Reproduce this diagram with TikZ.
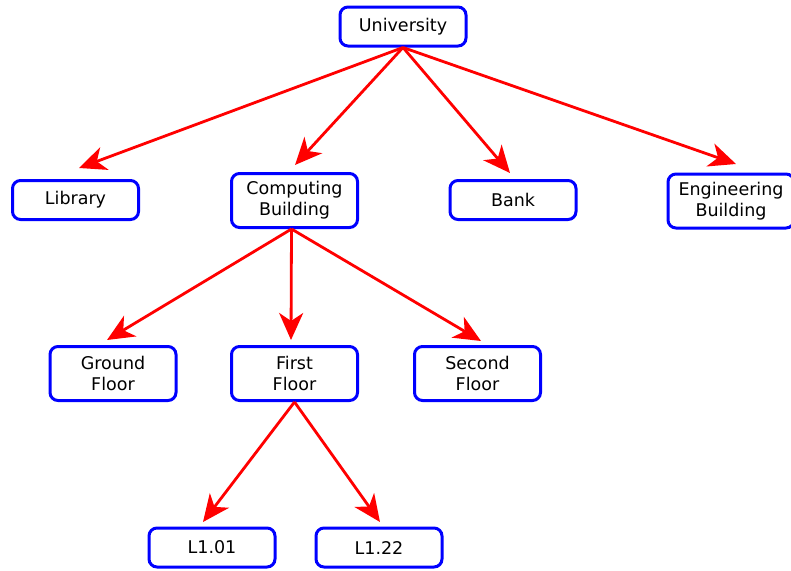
\documentclass[tikz,border=0pt]{standalone}
\usepackage{fontspec}
\setmainfont{DejaVu Sans}
\usetikzlibrary{arrows.meta}

\tikzset{
  box/.style={rectangle, rounded corners=8pt, draw=blue, line width=3pt,
    fill=white, minimum width=126pt, minimum height=39pt, align=center,
    inner sep=2pt, font=\fontsize{17.5pt}{21pt}\selectfont, text=black},
  tallbox/.style={box, minimum height=54pt},
  link/.style={draw=red, line width=2.8pt,
    -{Stealth[length=27pt, width=24pt, inset=8pt]}}
}

\begin{document}
\begin{tikzpicture}[x=1pt, y=-1pt]
  \clip (0,0) rectangle (791,570);
  \fill[white] (0,0) rectangle (791,570);

  % campus level
  \node[box]     (uni)    at (403,26.5)  {University};
  \node[box]     (lib)    at (75.5,200)  {Library};
  \node[tallbox] (comp)   at (294.5,200.5) {Computing\\Building};
  \node[box]     (bank)   at (513,200)   {Bank};
  \node[tallbox] (eng)    at (731,201)   {Engineering\\Building};

  % floors of the computing building
  \node[tallbox] (ground) at (113,373.5)   {Ground\\Floor};
  \node[tallbox] (first)  at (294.5,373.5) {First\\Floor};
  \node[tallbox] (second) at (477.5,373.5) {Second\\Floor};

  % rooms on the first floor
  \node[box]     (l101)   at (212,547.5) {L1.01};
  \node[box]     (l122)   at (379,547.5) {L1.22};

  % arrow end points just above each child
  \coordinate (tlib)    at (79,168);
  \coordinate (tcomp)   at (295,165);
  \coordinate (tbank)   at (510,173);
  \coordinate (teng)    at (736,164);
  \coordinate (tground) at (107,340);
  \coordinate (tfirst)  at (291,340);
  \coordinate (tsecond) at (481,341);
  \coordinate (tl101)   at (203,522);
  \coordinate (tl122)   at (380,522);

  \coordinate (csouth) at ([xshift=-3pt]comp.south);

  \draw[link] (uni.south) -- (tlib);
  \draw[link] (uni.south) -- (tcomp);
  \draw[link] (uni.south) -- (tbank);
  \draw[link] (uni.south) -- (teng);

  \draw[link] (csouth) -- (tground);
  \draw[link] (csouth) -- (tfirst);
  \draw[link] (csouth) -- (tsecond);

  \draw[link] (first.south) -- (tl101);
  \draw[link] (first.south) -- (tl122);
\end{tikzpicture}
\end{document}
